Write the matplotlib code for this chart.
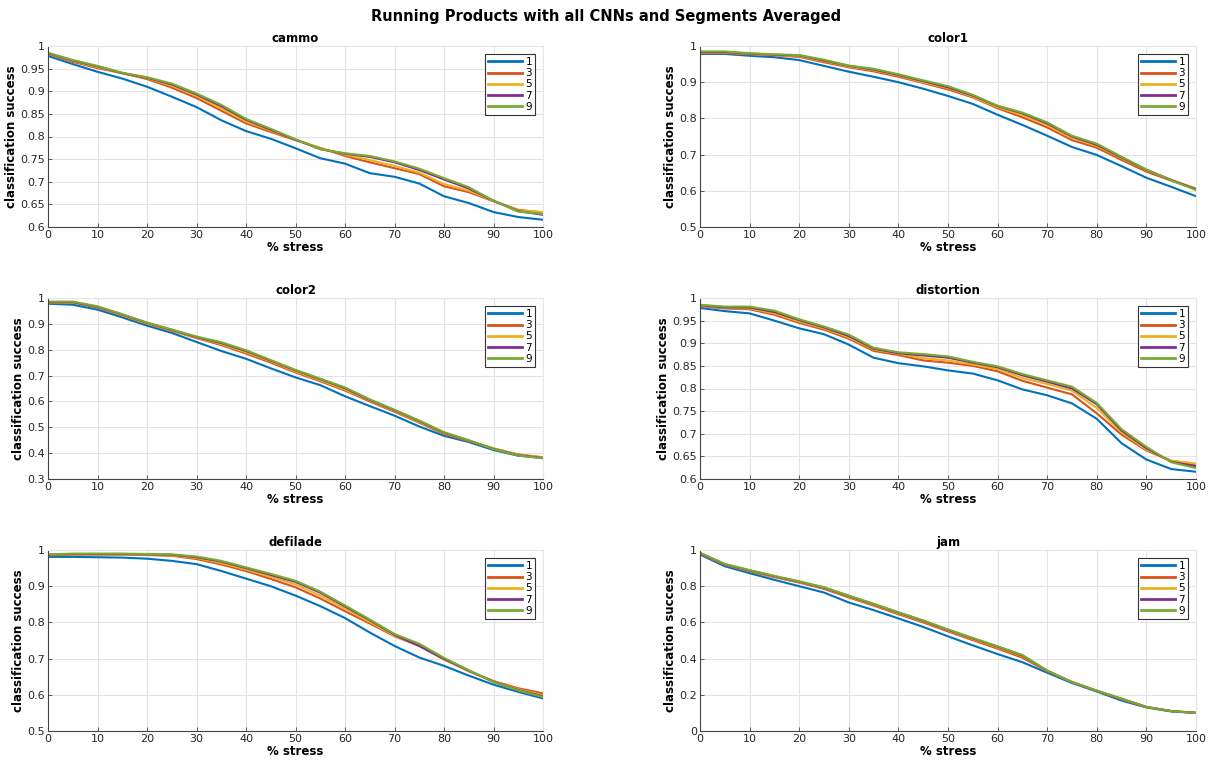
import numpy as np
import matplotlib
matplotlib.use("Agg")
import matplotlib.pyplot as plt

stress = [0, 5, 10, 15, 20, 25, 30, 35, 40, 45, 50, 55, 60, 65, 70, 75, 80, 85, 90, 95, 100]
series_labels = ["1", "3", "5", "7", "9"]
panel_names = ["cammo", "color1", "color2", "distortion", "defilade", "jam"]

cammo_1 = [0.978, 0.96, 0.943, 0.928, 0.91, 0.888, 0.865, 0.836, 0.812, 0.795, 0.774, 0.752, 0.74, 0.719, 0.711, 0.696, 0.668, 0.653, 0.633, 0.622, 0.616]
cammo_3 = [0.982, 0.965, 0.951, 0.94, 0.927, 0.908, 0.885, 0.857, 0.829, 0.81, 0.792, 0.775, 0.757, 0.743, 0.73, 0.717, 0.69, 0.677, 0.657, 0.638, 0.632]
cammo_5 = [0.983, 0.967, 0.953, 0.94, 0.929, 0.912, 0.89, 0.862, 0.833, 0.813, 0.793, 0.774, 0.76, 0.748, 0.735, 0.72, 0.695, 0.68, 0.658, 0.637, 0.633]
cammo_7 = [0.984, 0.968, 0.955, 0.94, 0.93, 0.915, 0.893, 0.867, 0.837, 0.815, 0.793, 0.772, 0.762, 0.755, 0.743, 0.726, 0.705, 0.685, 0.658, 0.635, 0.627]
cammo_9 = [0.985, 0.969, 0.956, 0.941, 0.931, 0.917, 0.895, 0.87, 0.839, 0.817, 0.794, 0.772, 0.763, 0.757, 0.745, 0.729, 0.708, 0.688, 0.658, 0.634, 0.629]

color1_1 = [0.978, 0.978, 0.973, 0.969, 0.961, 0.945, 0.929, 0.915, 0.9, 0.882, 0.862, 0.84, 0.81, 0.782, 0.752, 0.721, 0.699, 0.668, 0.636, 0.611, 0.585]
color1_3 = [0.98, 0.98, 0.977, 0.974, 0.97, 0.955, 0.941, 0.93, 0.915, 0.898, 0.88, 0.858, 0.828, 0.803, 0.775, 0.74, 0.719, 0.685, 0.653, 0.628, 0.605]
color1_5 = [0.982, 0.982, 0.978, 0.975, 0.972, 0.958, 0.943, 0.933, 0.918, 0.9, 0.884, 0.86, 0.831, 0.809, 0.781, 0.746, 0.724, 0.69, 0.657, 0.63, 0.607]
color1_7 = [0.983, 0.983, 0.979, 0.976, 0.974, 0.96, 0.945, 0.935, 0.92, 0.903, 0.886, 0.863, 0.834, 0.814, 0.786, 0.75, 0.727, 0.692, 0.658, 0.63, 0.604]
color1_9 = [0.985, 0.985, 0.98, 0.977, 0.975, 0.962, 0.946, 0.937, 0.922, 0.905, 0.889, 0.865, 0.835, 0.816, 0.789, 0.752, 0.73, 0.694, 0.659, 0.629, 0.602]

color2_1 = [0.978, 0.974, 0.955, 0.925, 0.893, 0.865, 0.83, 0.795, 0.765, 0.728, 0.693, 0.663, 0.62, 0.582, 0.545, 0.503, 0.467, 0.443, 0.412, 0.39, 0.382]
color2_3 = [0.982, 0.982, 0.963, 0.932, 0.9, 0.873, 0.845, 0.818, 0.785, 0.75, 0.712, 0.678, 0.642, 0.6, 0.56, 0.518, 0.474, 0.447, 0.418, 0.395, 0.384]
color2_5 = [0.983, 0.983, 0.965, 0.934, 0.902, 0.875, 0.847, 0.822, 0.79, 0.755, 0.716, 0.682, 0.646, 0.604, 0.563, 0.521, 0.477, 0.448, 0.418, 0.394, 0.383]
color2_7 = [0.984, 0.984, 0.966, 0.936, 0.904, 0.877, 0.849, 0.826, 0.795, 0.758, 0.72, 0.686, 0.651, 0.606, 0.566, 0.524, 0.479, 0.449, 0.416, 0.392, 0.381]
color2_9 = [0.986, 0.986, 0.968, 0.937, 0.905, 0.878, 0.851, 0.829, 0.798, 0.76, 0.722, 0.688, 0.654, 0.608, 0.568, 0.526, 0.481, 0.45, 0.415, 0.391, 0.38]

distortion_1 = [0.978, 0.971, 0.966, 0.95, 0.933, 0.92, 0.897, 0.868, 0.856, 0.849, 0.84, 0.833, 0.818, 0.798, 0.785, 0.767, 0.733, 0.679, 0.643, 0.622, 0.616]
distortion_3 = [0.982, 0.977, 0.975, 0.963, 0.945, 0.93, 0.91, 0.883, 0.874, 0.862, 0.857, 0.85, 0.838, 0.817, 0.802, 0.787, 0.745, 0.698, 0.663, 0.64, 0.632]
distortion_5 = [0.983, 0.978, 0.977, 0.966, 0.948, 0.933, 0.913, 0.886, 0.877, 0.867, 0.862, 0.853, 0.843, 0.823, 0.81, 0.795, 0.757, 0.703, 0.665, 0.641, 0.634]
distortion_7 = [0.984, 0.979, 0.979, 0.969, 0.951, 0.935, 0.916, 0.888, 0.878, 0.873, 0.868, 0.857, 0.847, 0.829, 0.815, 0.8, 0.765, 0.707, 0.668, 0.638, 0.628]
distortion_9 = [0.985, 0.981, 0.981, 0.972, 0.953, 0.937, 0.919, 0.89, 0.88, 0.876, 0.871, 0.859, 0.849, 0.832, 0.818, 0.804, 0.768, 0.71, 0.671, 0.637, 0.624]

defilade_1 = [0.981, 0.981, 0.98, 0.979, 0.976, 0.97, 0.961, 0.942, 0.921, 0.9, 0.874, 0.845, 0.812, 0.772, 0.735, 0.703, 0.68, 0.653, 0.628, 0.608, 0.59]
defilade_3 = [0.985, 0.987, 0.987, 0.987, 0.986, 0.984, 0.975, 0.96, 0.942, 0.92, 0.897, 0.866, 0.831, 0.797, 0.762, 0.735, 0.698, 0.665, 0.638, 0.618, 0.604]
defilade_5 = [0.986, 0.988, 0.988, 0.988, 0.987, 0.985, 0.978, 0.964, 0.946, 0.926, 0.905, 0.874, 0.838, 0.801, 0.764, 0.738, 0.697, 0.666, 0.637, 0.615, 0.599]
defilade_7 = [0.987, 0.989, 0.989, 0.989, 0.988, 0.987, 0.98, 0.968, 0.95, 0.931, 0.912, 0.882, 0.844, 0.806, 0.766, 0.735, 0.699, 0.667, 0.636, 0.613, 0.596]
defilade_9 = [0.988, 0.99, 0.99, 0.99, 0.989, 0.988, 0.982, 0.97, 0.952, 0.934, 0.915, 0.885, 0.847, 0.808, 0.768, 0.741, 0.702, 0.668, 0.635, 0.612, 0.594]

jam_1 = [0.975, 0.91, 0.872, 0.835, 0.8, 0.765, 0.71, 0.668, 0.622, 0.575, 0.523, 0.473, 0.425, 0.38, 0.322, 0.265, 0.218, 0.168, 0.13, 0.108, 0.1]
jam_3 = [0.98, 0.918, 0.882, 0.85, 0.82, 0.785, 0.738, 0.693, 0.645, 0.6, 0.55, 0.502, 0.455, 0.405, 0.33, 0.27, 0.222, 0.175, 0.132, 0.11, 0.1]
jam_5 = [0.982, 0.92, 0.885, 0.853, 0.823, 0.79, 0.743, 0.698, 0.65, 0.606, 0.556, 0.508, 0.462, 0.413, 0.332, 0.27, 0.222, 0.177, 0.133, 0.11, 0.1]
jam_7 = [0.983, 0.921, 0.887, 0.855, 0.825, 0.792, 0.746, 0.701, 0.654, 0.609, 0.559, 0.512, 0.466, 0.417, 0.333, 0.27, 0.222, 0.178, 0.133, 0.11, 0.1]
jam_9 = [0.985, 0.923, 0.889, 0.857, 0.827, 0.794, 0.748, 0.703, 0.656, 0.611, 0.561, 0.514, 0.468, 0.42, 0.334, 0.27, 0.223, 0.179, 0.133, 0.11, 0.1]

yticks_cammo = [0.6, 0.65, 0.7, 0.75, 0.8, 0.85, 0.9, 0.95, 1.0]
yticks_color1 = [0.5, 0.6, 0.7, 0.8, 0.9, 1.0]
yticks_color2 = [0.3, 0.4, 0.5, 0.6, 0.7, 0.8, 0.9, 1.0]
yticks_distortion = [0.6, 0.65, 0.7, 0.75, 0.8, 0.85, 0.9, 0.95, 1.0]
yticks_defilade = [0.5, 0.6, 0.7, 0.8, 0.9, 1.0]
yticks_jam = [0.0, 0.2, 0.4, 0.6, 0.8, 1.0]
xticks = [0, 10, 20, 30, 40, 50, 60, 70, 80, 90, 100]

panels = [
    ("cammo", [cammo_1, cammo_3, cammo_5, cammo_7, cammo_9], yticks_cammo),
    ("color1", [color1_1, color1_3, color1_5, color1_7, color1_9], yticks_color1),
    ("color2", [color2_1, color2_3, color2_5, color2_7, color2_9], yticks_color2),
    ("distortion", [distortion_1, distortion_3, distortion_5, distortion_7, distortion_9], yticks_distortion),
    ("defilade", [defilade_1, defilade_3, defilade_5, defilade_7, defilade_9], yticks_defilade),
    ("jam", [jam_1, jam_3, jam_5, jam_7, jam_9], yticks_jam),
]

colors = [(0, 0.447, 0.741), (0.85, 0.325, 0.098), (0.929, 0.694, 0.125),
          (0.494, 0.184, 0.556), (0.466, 0.674, 0.188)]

W, H = 1213, 761
fig = plt.figure(figsize=(W / 100, H / 100), dpi=100)
fig.patch.set_facecolor("white")

col_left = [48, 700]
col_width = [495, 496]
row_top = [46, 298, 550]
row_h = 181

txtc = "#262626"

def fmt(v):
    s = ("%.2f" % v).rstrip("0").rstrip(".")
    return s

for i, (name, series, yt) in enumerate(panels):
    r, c = divmod(i, 2)
    left = col_left[c] / W
    bottom = (H - row_top[r] - row_h) / H
    ax = fig.add_axes([left, bottom, col_width[c] / W, row_h / H])
    for s, lab, col in zip(series, series_labels, colors):
        ax.plot(stress, s, color=col, lw=1.5, label=lab)
    ax.set_xlim(0, 100)
    ax.set_ylim(yt[0], yt[-1])
    ax.set_xticks(xticks)
    ax.set_yticks(yt)
    ax.set_yticklabels([fmt(v) for v in yt])
    ax.grid(True, color="#e3e3e3", lw=0.8)
    ax.set_axisbelow(True)
    for sp in ["top", "right"]:
        ax.spines[sp].set_color("#e6e6e6")
        ax.spines[sp].set_linewidth(0.8)
    for sp in ["left", "bottom"]:
        ax.spines[sp].set_color("#444444")
        ax.spines[sp].set_linewidth(0.8)
    ax.tick_params(direction="in", length=3, width=0.6, labelsize=8,
                   colors="#444444", labelcolor=txtc, top=False, right=False, pad=2)
    ax.set_title(name, fontsize=8.5, fontweight="bold", color="black", pad=3)
    ax.set_xlabel("% stress", fontsize=8.5, fontweight="bold", color="black", labelpad=1)
    ax.set_ylabel("classification success", fontsize=8.5, fontweight="bold",
                  color="black", labelpad=2)
    leg = ax.legend(loc="upper right", fontsize=7.5, handlelength=3.3, handletextpad=0.3,
                    borderpad=0.25, labelspacing=0.12, fancybox=False, framealpha=1,
                    edgecolor="#333333", borderaxespad=0.8)
    leg.get_frame().set_linewidth(0.8)
    for ln in leg.get_lines():
        ln.set_linewidth(2)

fig.suptitle("Running Products with all CNNs and Segments Averaged", fontsize=10.5,
             fontweight="bold", y=1 - 17 / H, va="center")

fig.savefig("out.png", dpi=100, facecolor="white")
